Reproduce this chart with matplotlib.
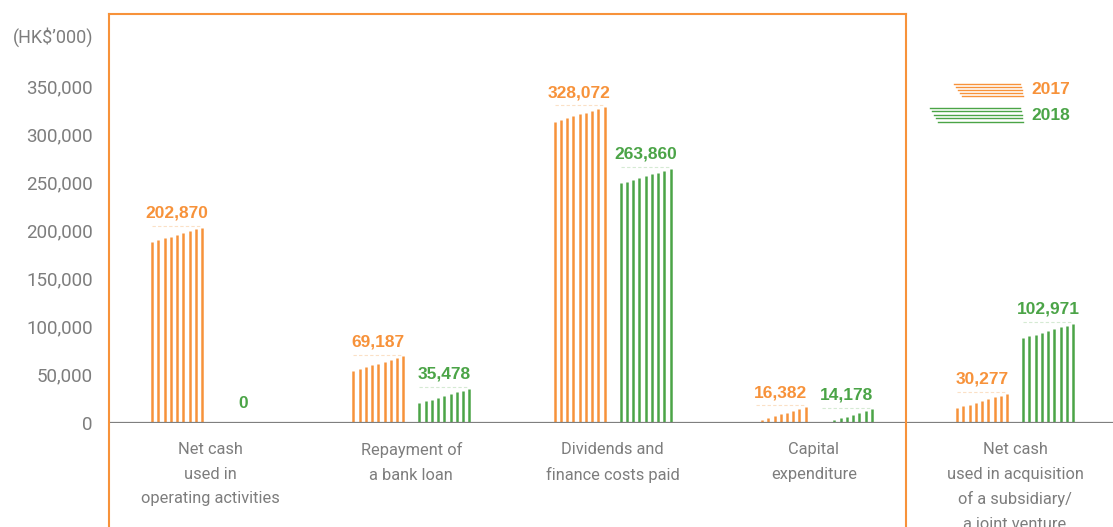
import matplotlib
matplotlib.use("Agg")
import matplotlib.pyplot as plt
from matplotlib.lines import Line2D
import numpy as np

categories = ["Net cash\nused in\noperating activities",
              "Repayment of\na bank loan",
              "Dividends and\nfinance costs paid",
              "Capital\nexpenditure",
              "Net cash\nused in acquisition\nof a subsidiary/\na joint venture"]
values_2017 = [202870, 69187, 328072, 16382, 30277]
values_2018 = [0, 35478, 263860, 14178, 102971]
series_names = ["2017", "2018"]
yticks = [0, 50000, 100000, 150000, 200000, 250000, 300000, 350000]

ORANGE = "#F7923A"
GREEN = "#4BA447"
ORANGE_L = "#FBE0C6"
GREEN_L = "#D5EAD3"
GRAY = "#7D7D7D"
AXGRAY = "#7F7F7F"
FONT = "Roboto"

W, H = 1113, 527
fig = plt.figure(figsize=(W / 100, H / 100), dpi=100)
ax_left, ax_right, ax_bottom, ax_top = 108, 1113, 423, 14
ax = fig.add_axes([ax_left / W, (H - ax_bottom) / H, (ax_right - ax_left) / W, (ax_bottom - ax_top) / H])
px_per_unit_y = 337 / 350000.0
ax.set_ylim(0, (ax_bottom - ax_top) / px_per_unit_y)
g0, gsp = 210, 201.25
ax.set_xlim((ax_left - g0) / gsp, (ax_right - g0) / gsp)

for s in ax.spines.values():
    s.set_visible(False)
ax.set_xticks([])
ax.set_yticks(yticks)
ax.set_yticklabels([f"{v:,}" for v in yticks], fontsize=13.5, color=GRAY,
                   family=FONT, fontweight="normal")
ax.tick_params(axis="y", length=0, pad=11)

ax.axhline(0, color=AXGRAY, lw=1.6, zorder=3)

n_lines = 9
bar_w = 50 / gsp
offs = np.linspace(-bar_w / 2, bar_w / 2, n_lines)
drop = 15000
shift = 33 / gsp

x = np.arange(len(categories))
for vals, sgn, col, lcol in [(values_2017, -1, ORANGE, ORANGE_L), (values_2018, 1, GREEN, GREEN_L)]:
    for xi, v in zip(x, vals):
        c = xi + sgn * shift
        if v > 0:
            for k, o in enumerate(offs):
                h = max(v - drop * (n_lines - 1 - k) / (n_lines - 1), 0)
                if h > 0:
                    ax.vlines(c + o, 0, h, color=col, lw=1.8, zorder=2)
            ax.hlines(v + 1800, c + offs[0], c + offs[-1], color=lcol, lw=0.8,
                      linestyles=(0, (3, 2)), zorder=1)
        ax.annotate(f"{v:,}", (c, v), xytext=(0, 5 if v > 0 else 9), textcoords="offset points",
                    ha="center", va="bottom", color=col, fontsize=12.5,
                    fontweight="bold", family="Liberation Sans")

for xi, lab in zip(x, categories):
    ax.annotate(lab, (xi, 0), xytext=(0, -14), textcoords="offset points",
                ha="center", va="top", color=GRAY, fontsize=11.8,
                family=FONT, fontweight="normal", linespacing=1.76,
                annotation_clip=False)

fig.text(93 / W, 1 - 37 / H, "(HK$\u2019000)", ha="right", va="center", color=GRAY,
         fontsize=13, family=FONT, fontweight="normal")

bx_l, bx_r, bx_t = 108.5, 906, 14
for xs, ys in [((bx_l, bx_l), (bx_t, H + 5)), ((bx_l, bx_r), (bx_t, bx_t)), ((bx_r, bx_r), (bx_t, H + 5))]:
    fig.add_artist(Line2D([xs[0] / W, xs[1] / W], [1 - ys[0] / H, 1 - ys[1] / H],
                          transform=fig.transFigure, color=ORANGE, lw=1.5, zorder=5))

leg = [(series_names[0], ORANGE, 84, 3.0, 954, 90), (series_names[1], GREEN, 108, 3.4, 930, 116)]
for name, col, y0, dy, xl, ty in leg:
    for k in range(5):
        yy = y0 + k * dy
        fig.add_artist(Line2D([(xl + 2 * k) / W, (1020 + 0.8 * k) / W], [1 - yy / H, 1 - yy / H],
                              transform=fig.transFigure, color=col, lw=1.0))
    fig.text(1031 / W, 1 - ty / H, name, ha="left", va="center", color=col,
             fontsize=12.5, fontweight="bold", family="Liberation Sans")

fig.savefig("out.png", dpi=100)
